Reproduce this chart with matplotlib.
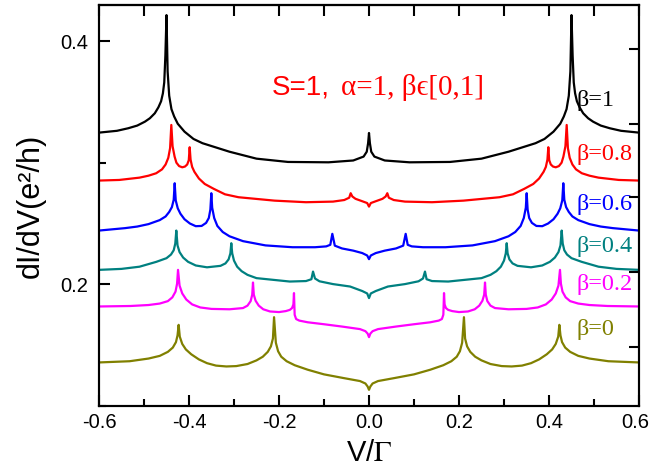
import numpy as np
import matplotlib
matplotlib.use("Agg")
import matplotlib.pyplot as plt
import matplotlib.transforms as mtransforms

plt.rcParams["font.family"] = ["Liberation Sans", "DejaVu Sans"]
plt.rcParams["mathtext.fontset"] = "stix"

# ========= data (right half, curves are symmetric in V) =========
x_b10 = [0, 0.002, 0.005, 0.012, 0.035, 0.09, 0.18, 0.25, 0.31, 0.34, 0.37, 0.39, 0.41, 0.425, 0.433,
         0.439, 0.444, 0.4475, 0.45, 0.4525, 0.455, 0.458, 0.462, 0.468, 0.476, 0.487, 0.498, 0.515,
         0.535, 0.56, 0.6]
y_b10 = [0.3244, 0.316, 0.309, 0.305, 0.3018, 0.3003, 0.3006, 0.3033, 0.309, 0.3125, 0.316, 0.3195,
         0.3255, 0.332, 0.338, 0.344, 0.355, 0.375, 0.4213, 0.388, 0.366, 0.357, 0.3505, 0.3455,
         0.3406, 0.3365, 0.3337, 0.3305, 0.3283, 0.3262, 0.3247]

x_b08 = [0, 0.004, 0.015, 0.03, 0.037, 0.0407, 0.044, 0.055, 0.08, 0.14, 0.21, 0.29, 0.32, 0.345,
         0.365, 0.378, 0.388, 0.393, 0.3965, 0.3985, 0.4005, 0.404, 0.409, 0.415, 0.422, 0.428, 0.432,
         0.4365, 0.4393, 0.442, 0.446, 0.452, 0.46, 0.473, 0.49, 0.51, 0.555, 0.6]
y_b08 = [0.2639, 0.2668, 0.2683, 0.2703, 0.2722, 0.2749, 0.2712, 0.2693, 0.268, 0.2675, 0.2688, 0.2716,
         0.274, 0.2785, 0.2825, 0.287, 0.2925, 0.2965, 0.3025, 0.3127, 0.302, 0.2985, 0.2968, 0.2962,
         0.2972, 0.3, 0.305, 0.3135, 0.331, 0.312, 0.304, 0.2985, 0.2945, 0.2913, 0.2893, 0.2877,
         0.2858, 0.2853]

x_b06 = [0, 0.004, 0.015, 0.035, 0.06, 0.076, 0.0815, 0.086, 0.095, 0.12, 0.17, 0.23, 0.28, 0.31,
         0.325, 0.337, 0.344, 0.3485, 0.3504, 0.3525, 0.356, 0.362, 0.372, 0.385, 0.398, 0.41, 0.419,
         0.425, 0.4295, 0.4318, 0.434, 0.438, 0.444, 0.452, 0.465, 0.49, 0.515, 0.542, 0.6]
y_b06 = [0.2207, 0.2237, 0.2257, 0.2277, 0.2295, 0.2318, 0.2415, 0.2325, 0.2312, 0.2305, 0.2305, 0.232,
         0.2355, 0.2395, 0.243, 0.248, 0.2545, 0.263, 0.2749, 0.2615, 0.2545, 0.2505, 0.248, 0.2478,
         0.25, 0.2535, 0.258, 0.2625, 0.269, 0.2831, 0.2695, 0.2635, 0.2595, 0.2558, 0.2528, 0.2495,
         0.2475, 0.2462, 0.2442]

x_b04 = [0, 0.004, 0.015, 0.042, 0.08, 0.11, 0.12, 0.1244, 0.128, 0.14, 0.176, 0.25, 0.27, 0.283,
         0.293, 0.3, 0.304, 0.306, 0.308, 0.312, 0.319, 0.33, 0.36, 0.385, 0.402, 0.413, 0.421, 0.4255,
         0.4282, 0.4305, 0.434, 0.44, 0.45, 0.4726, 0.51, 0.55, 0.6]
y_b04 = [0.1887, 0.1925, 0.1945, 0.1982, 0.2002, 0.2025, 0.2048, 0.2105, 0.2042, 0.2027, 0.2023, 0.2051,
         0.2078, 0.2108, 0.2145, 0.2195, 0.2255, 0.2338, 0.2255, 0.2205, 0.2172, 0.2152, 0.214, 0.2155,
         0.2185, 0.222, 0.2265, 0.232, 0.2442, 0.2335, 0.228, 0.2245, 0.2215, 0.2185, 0.2145, 0.2127,
         0.2119]

x_b02 = [0, 0.003, 0.008, 0.02, 0.06, 0.10, 0.136, 0.155, 0.162, 0.1652, 0.1667, 0.168, 0.171, 0.176,
         0.185, 0.20, 0.22, 0.235, 0.245, 0.252, 0.256, 0.2578, 0.2595, 0.263, 0.27, 0.28, 0.31, 0.35,
         0.375, 0.393, 0.406, 0.415, 0.421, 0.4244, 0.4265, 0.43, 0.437, 0.447, 0.465, 0.49, 0.53,
         0.6]
y_b02 = [0.1566, 0.1595, 0.1615, 0.1632, 0.1653, 0.1672, 0.1688, 0.1702, 0.1715, 0.175, 0.1928, 0.1835,
         0.1805, 0.179, 0.178, 0.1772, 0.1777, 0.1795, 0.1825, 0.1865, 0.1915, 0.2015, 0.1915, 0.1862,
         0.1825, 0.1805, 0.1795, 0.1798, 0.181, 0.1835, 0.1875, 0.1925, 0.199, 0.2119, 0.2005, 0.194,
         0.1893, 0.1862, 0.1842, 0.183, 0.1822, 0.1818]

x_b00 = [0, 0.003, 0.008, 0.02, 0.057, 0.10, 0.136, 0.165, 0.183, 0.195, 0.202, 0.207, 0.211, 0.2135,
         0.218, 0.225, 0.236, 0.25, 0.27, 0.295, 0.317, 0.34, 0.36, 0.378, 0.395, 0.407, 0.415,
         0.4205, 0.423, 0.4255, 0.429, 0.436, 0.447, 0.465, 0.49, 0.532, 0.6]
y_b00 = [0.1133, 0.116, 0.1185, 0.1205, 0.123, 0.126, 0.1298, 0.1335, 0.1368, 0.1405, 0.145, 0.152,
         0.173, 0.1555, 0.149, 0.1445, 0.1405, 0.1375, 0.1345, 0.1328, 0.1325, 0.1332, 0.1352, 0.1383,
         0.1425, 0.1465, 0.151, 0.157, 0.1667, 0.158, 0.1525, 0.148, 0.1445, 0.1412, 0.139, 0.1368,
         0.1358]

curves = [
    (x_b10, y_b10, "black", "\u03b2=1", 0.3515),
    (x_b08, y_b08, "#ff0000", "\u03b2=0.8", 0.3064),
    (x_b06, y_b06, "#0000ff", "\u03b2=0.6", 0.2653),
    (x_b04, y_b04, "#008080", "\u03b2=0.4", 0.2308),
    (x_b02, y_b02, "#ff00ff", "\u03b2=0.2", 0.1996),
    (x_b00, y_b00, "#808000", "\u03b2=0", 0.1626),
]

right_ticks = [0.1487, 0.2103, 0.2719, 0.3318, 0.3934]
top_ticks = [-0.6, -0.5, -0.4, -0.3, -0.2, -0.1, 0.0, 0.1, 0.2, 0.3, 0.4, 0.5, 0.6]


def mirror(xh, yh):
    xh = np.asarray(xh)
    yh = np.asarray(yh)
    x = np.concatenate([-xh[::-1], xh[1:]])
    y = np.concatenate([yh[::-1], yh[1:]])
    return x, y


fig = plt.figure(figsize=(6.51, 4.75), dpi=100)
ax = fig.add_axes([99 / 651, 69 / 475, 540 / 651, 401 / 475])

for xh, yh, color, label, ly in curves:
    x, y = mirror(xh, yh)
    ax.plot(x, y, color=color, lw=1.6, solid_joinstyle="round")
    ax.text(0.4622, ly, label, color=color, fontsize=17.5,
            family=["Liberation Serif", "DejaVu Serif"], va="center", ha="left")

ax.text(-0.2156, 0.3614, "S=1,", color="red", fontsize=20, va="center", ha="left")
ax.text(-0.0622, 0.3614, "\u03b1=1, \u03b2\u03f5[0,1]", color="red", fontsize=21,
        family=["Liberation Serif", "DejaVu Serif"], va="center", ha="left")

ax.set_xlim(-0.6, 0.6)
ax.set_ylim(0.1, 0.4296)
ax.set_xticks([-0.6, -0.4, -0.2, 0.0, 0.2, 0.4, 0.6])
ax.set_xticks(top_ticks, minor=True)
ax.set_xticklabels(["-0.6", "-0.4", "-0.2", "0.0", "0.2", "0.4", "0.6"])
ax.set_yticks([0.2, 0.4])
ax.set_yticks([0.1, 0.3], minor=True)
ax.set_yticklabels(["0.2", "0.4"])
ax.tick_params(which="major", direction="in", length=8, width=1.5, labelsize=14.5, pad=5)
ax.tick_params(axis="y", which="major", pad=8)
ax.tick_params(which="minor", direction="in", length=5, width=1.5)
ax.tick_params(which="both", top=False, right=False)

# last x label sits at the figure edge, nudge it in a bit
last = ax.get_xticklabels()[-1]
last.set_transform(last.get_transform() + mtransforms.ScaledTranslation(-4 / 100, 0, fig.dpi_scale_trans))

top = ax.secondary_xaxis("top")
top.set_xticks(top_ticks)
top.set_xticklabels([])
top.tick_params(direction="in", length=8, width=1.5)

ax2 = ax.twinx()
ax2.set_ylim(ax.get_ylim())
ax2.set_yticks(right_ticks)
ax2.set_yticklabels([])
ax2.tick_params(direction="in", length=7, width=1.5)

for a in (ax, ax2):
    for s in a.spines.values():
        s.set_linewidth(1.5)
for s in top.spines.values():
    s.set_linewidth(1.5)

ax.set_xlabel(r"V/$\Gamma$", fontsize=21, labelpad=5)
ax.set_ylabel("dI/dV(e\u00b2/h)", fontsize=22, labelpad=10)

fig.savefig("out.png", dpi=100)
